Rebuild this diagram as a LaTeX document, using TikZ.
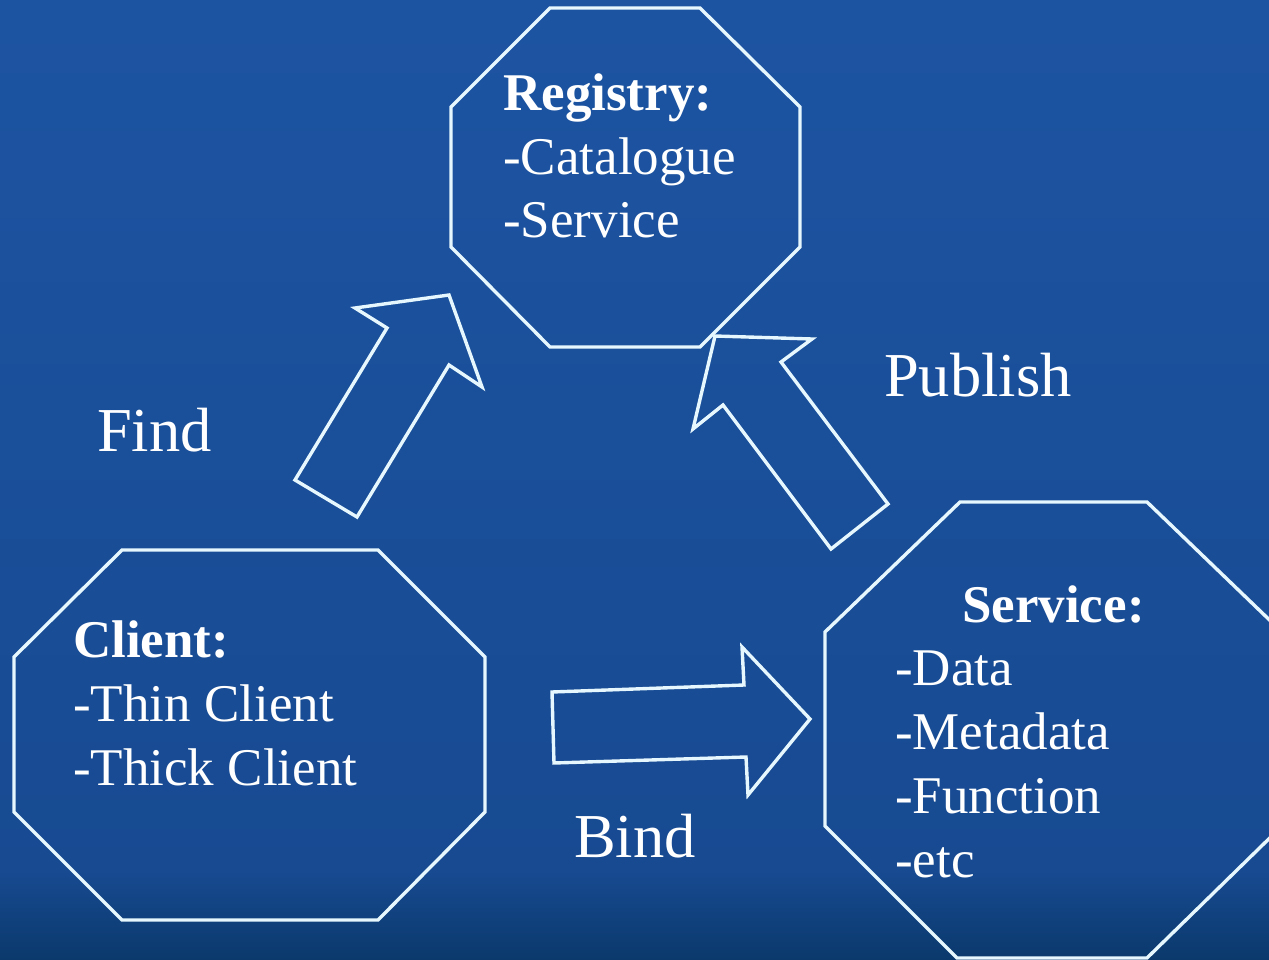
\documentclass[tikz,border=0pt]{standalone}
\usepackage{fontspec}
\setmainfont{Liberation Serif}
\begin{document}
\begin{tikzpicture}[x=1pt,y=-1pt,
  outline/.style={draw=white!90!cyan, line width=3.4pt, line join=miter},
  body/.style={text=white, inner sep=0pt, anchor=base west, font=\fontsize{53}{63}\selectfont},
  head/.style={body, font=\fontsize{53}{63}\selectfont\bfseries},
  label/.style={text=white, inner sep=0pt, anchor=base west, font=\fontsize{62.5}{74}\selectfont}]
  \useasboundingbox (0,0) rectangle (1269,960);
  \clip (0,0) rectangle (1269,960);
  % backdrop
  \shade[top color={rgb,255:red,29;green,84;blue,162}, bottom color={rgb,255:red,23;green,74;blue,145}]
    (0,0) rectangle (1269,872);
  \shade[top color={rgb,255:red,23;green,74;blue,145}, bottom color={rgb,255:red,11;green,57;blue,108}]
    (0,870) rectangle (1269,960);

  % registry octagon
  \draw[outline] (550,8) -- (700,8) -- (800,107) -- (800,247) -- (700,347)
    -- (550,347) -- (451,247) -- (451,107) -- cycle;
  % client octagon
  \draw[outline] (122,550) -- (378,550) -- (485,657) -- (485,812) -- (378,920)
    -- (122,920) -- (14,812) -- (14,657) -- cycle;
  % service octagon
  \draw[outline] (960,502) -- (1147,502) -- (1282,632) -- (1282,826) -- (1147,958)
    -- (957,958) -- (825,826) -- (825,632) -- cycle;

  % find arrow
  \draw[outline] (295,480) -- (387,328) -- (355,308) -- (449,295) -- (482,387)
    -- (449,365) -- (357,517) -- cycle;
  % publish arrow
  \draw[outline] (888,504) -- (781,362) -- (812,339) -- (715,336) -- (693,429)
    -- (723,405) -- (831,549) -- cycle;
  % bind arrow
  \draw[outline] (552,692) -- (744,685) -- (742,647) -- (810,719) -- (748,795)
    -- (746,757) -- (554,763) -- cycle;

  % registry text
  \node[head] (regh) at (503,111) {Registry:};
  \node[body] (reg1) at (503,175) {-Catalogue};
  \node[body] (reg2) at (503,238) {-Service};
  % client text
  \node[head] (clih) at (73,657) {Client:};
  \node[body] (cli1) at (73,721) {-Thin Client};
  \node[body] (cli2) at (73,785) {-Thick Client};
  % service text
  \node[head] (srvh) at (962,622) {Service:};
  \node[body] (srv1) at (895,685) {-Data};
  \node[body] (srv2) at (895,749) {-Metadata};
  \node[body] (srv3) at (895,813) {-Function};
  \node[body] (srv4) at (895,877) {-etc};

  % arrow labels
  \node[label] (find) at (97,451) {Find};
  \node[label] (publish) at (884,396) {Publish};
  \node[label] (bind) at (574,857) {Bind};
\end{tikzpicture}
\end{document}
